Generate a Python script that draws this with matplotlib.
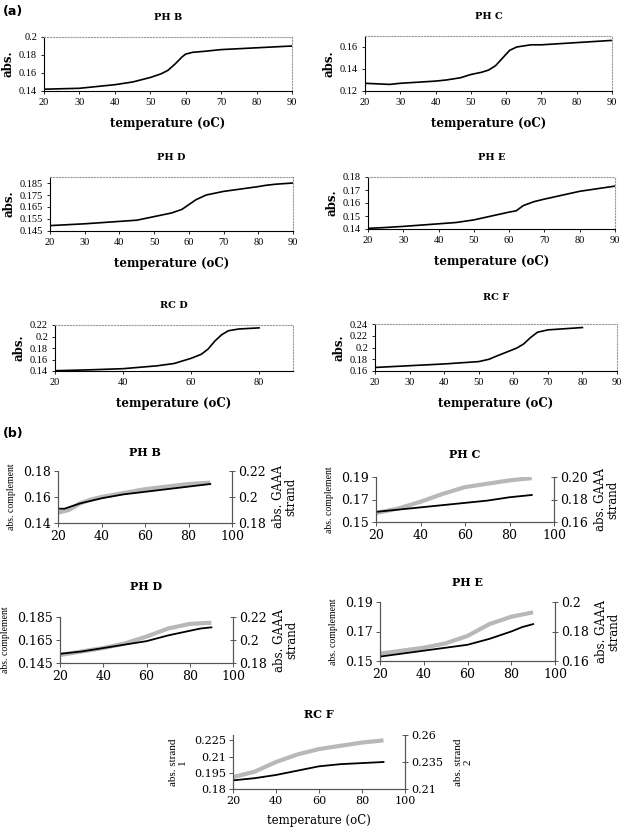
import matplotlib
matplotlib.use("Agg")
import matplotlib.pyplot as plt

W, H = 624, 832
plt.rcParams["font.family"] = ["DejaVu Serif"]

# ---- part (a): single melting curves ----
a_names = ["PH B", "PH C", "PH D", "PH E", "RC D", "RC F"]
a_temp = {
    "PH B": [20, 30, 40, 45, 50, 53, 55, 57, 59, 60, 62, 65, 70, 80, 90],
    "PH C": [20, 27, 30, 40, 43, 47, 50, 53, 55, 57, 59, 61, 63, 67, 70, 80, 90],
    "PH D": [20, 30, 40, 45, 50, 55, 58, 60, 62, 65, 70, 75, 80, 82, 85, 90],
    "PH E": [20, 24, 30, 40, 45, 50, 55, 60, 62, 64, 67, 70, 75, 80, 85, 90],
    "RC D": [20, 30, 40, 50, 55, 60, 63, 65, 67, 69, 71, 74, 80],
    "RC F": [20, 30, 40, 45, 50, 53, 55, 58, 61, 63, 65, 67, 70, 75, 80],
}
a_abs = {
    "PH B": [0.142, 0.143, 0.147, 0.150, 0.155, 0.159, 0.163, 0.170, 0.178, 0.181,
             0.183, 0.184, 0.186, 0.188, 0.190],
    "PH C": [0.127, 0.126, 0.127, 0.129, 0.130, 0.132, 0.135, 0.137, 0.139, 0.143,
             0.150, 0.157, 0.160, 0.162, 0.162, 0.164, 0.166],
    "PH D": [0.1495, 0.151, 0.153, 0.154, 0.157, 0.160, 0.163, 0.167, 0.171, 0.175,
             0.178, 0.180, 0.182, 0.183, 0.184, 0.185],
    "PH E": [0.1405, 0.141, 0.142, 0.144, 0.145, 0.147, 0.150, 0.153, 0.154, 0.158,
             0.161, 0.163, 0.166, 0.169, 0.171, 0.173],
    "RC D": [0.1405, 0.142, 0.144, 0.149, 0.153, 0.162, 0.169, 0.178, 0.192, 0.203,
             0.210, 0.213, 0.215],
    "RC F": [0.166, 0.169, 0.172, 0.174, 0.176, 0.180, 0.185, 0.192, 0.199, 0.206,
             0.217, 0.226, 0.230, 0.232, 0.234],
}
a_ylim = {"PH B": (0.14, 0.2), "PH C": (0.12, 0.17), "PH D": (0.145, 0.19),
          "PH E": (0.14, 0.18), "RC D": (0.14, 0.22), "RC F": (0.16, 0.24)}
a_yticks = {
    "PH B": ([0.14, 0.16, 0.18, 0.2], ["0.14", "0.16", "0.18", "0.2"]),
    "PH C": ([0.12, 0.14, 0.16], ["0.12", "0.14", "0.16"]),
    "PH D": ([0.145, 0.155, 0.165, 0.175, 0.185], ["0.145", "0.155", "0.165", "0.175", "0.185"]),
    "PH E": ([0.14, 0.15, 0.16, 0.17, 0.18], ["0.14", "0.15", "0.16", "0.17", "0.18"]),
    "RC D": ([0.14, 0.16, 0.18, 0.2, 0.22], ["0.14", "0.16", "0.18", "0.2", "0.22"]),
    "RC F": ([0.16, 0.18, 0.2, 0.22, 0.24], ["0.16", "0.18", "0.2", "0.22", "0.24"]),
}
a_xstep = {"PH B": 10, "PH C": 10, "PH D": 10, "PH E": 10, "RC D": 20, "RC F": 10}
# pixel boxes: left, top, right, bottom
a_box = {"PH B": (44, 37, 292, 91), "PH C": (365, 36, 612, 91),
         "PH D": (50, 177, 293, 231), "PH E": (368, 177, 615, 229),
         "RC D": (55, 325, 293, 371), "RC F": (375, 324, 617, 371)}

# ---- part (b): two strands, twin axes ----
b_names = ["PH B", "PH C", "PH D", "PH E", "RC F"]
b_temp_k = {
    "PH B": [20, 23, 30, 40, 50, 60, 70, 80, 90],
    "PH C": [20, 25, 30, 40, 50, 60, 70, 80, 90],
    "PH D": [20, 30, 40, 50, 60, 70, 80, 85, 90],
    "PH E": [20, 30, 40, 50, 60, 70, 80, 85, 90],
    "RC F": [20, 30, 40, 50, 60, 70, 80, 90],
}
b_black = {
    "PH B": [0.151, 0.151, 0.155, 0.159, 0.162, 0.164, 0.166, 0.168, 0.170],
    "PH C": [0.159, 0.160, 0.161, 0.163, 0.165, 0.167, 0.169, 0.172, 0.174],
    "PH D": [0.153, 0.155, 0.158, 0.161, 0.164, 0.169, 0.173, 0.175, 0.176],
    "PH E": [0.153, 0.155, 0.157, 0.159, 0.161, 0.165, 0.170, 0.173, 0.175],
    "RC F": [0.188, 0.190, 0.193, 0.197, 0.201, 0.203, 0.204, 0.205],
}
b_temp_g = {
    "PH B": [20, 25, 30, 35, 40, 50, 60, 70, 80, 90],
    "PH C": [20, 25, 30, 40, 50, 60, 70, 80, 90],
    "PH D": [20, 30, 40, 50, 60, 70, 80, 90],
    "PH E": [20, 30, 40, 50, 60, 70, 80, 90],
    "RC F": [20, 30, 40, 50, 60, 70, 80, 90],
}
b_gray = {
    "PH B": [0.188, 0.190, 0.195, 0.198, 0.200, 0.203, 0.206, 0.208, 0.210, 0.211],
    "PH C": [0.168, 0.170, 0.172, 0.178, 0.185, 0.191, 0.194, 0.197, 0.199],
    "PH D": [0.187, 0.190, 0.193, 0.197, 0.203, 0.210, 0.214, 0.215],
    "PH E": [0.165, 0.167, 0.169, 0.172, 0.177, 0.185, 0.190, 0.193],
    "RC F": [0.221, 0.226, 0.235, 0.242, 0.247, 0.250, 0.253, 0.255],
}
b_left = {
    "PH B": ((0.14, 0.18), [0.14, 0.16, 0.18], ["0.14", "0.16", "0.18"]),
    "PH C": ((0.15, 0.19), [0.15, 0.17, 0.19], ["0.15", "0.17", "0.19"]),
    "PH D": ((0.145, 0.185), [0.145, 0.165, 0.185], ["0.145", "0.165", "0.185"]),
    "PH E": ((0.15, 0.19), [0.15, 0.17, 0.19], ["0.15", "0.17", "0.19"]),
    "RC F": ((0.18, 0.23), [0.18, 0.195, 0.21, 0.225], ["0.18", "0.195", "0.21", "0.225"]),
}
b_right = {
    "PH B": ((0.18, 0.22), [0.18, 0.2, 0.22], ["0.18", "0.2", "0.22"]),
    "PH C": ((0.16, 0.20), [0.16, 0.18, 0.20], ["0.16", "0.18", "0.20"]),
    "PH D": ((0.18, 0.22), [0.18, 0.2, 0.22], ["0.18", "0.2", "0.22"]),
    "PH E": ((0.16, 0.20), [0.16, 0.18, 0.2], ["0.16", "0.18", "0.2"]),
    "RC F": ((0.21, 0.26), [0.21, 0.235, 0.26], ["0.21", "0.235", "0.26"]),
}
b_box = {"PH B": (58, 471, 232, 523), "PH C": (376, 477, 554, 522),
         "PH D": (60, 617, 233, 663), "PH E": (380, 602, 555, 661),
         "RC F": (233, 735, 405, 789)}
b_title_y = {"PH B": 453, "PH C": 455, "PH D": 587, "PH E": 582, "RC F": 715}


def px_axes(fig, box):
    l, t, r, b = box
    return fig.add_axes([l / W, 1 - b / H, (r - l) / W, (b - t) / H])


fig = plt.figure(figsize=(W / 100, H / 100), dpi=100)

fig.text(3 / W, 1 - 12 / H, "(a)", fontsize=9, fontweight="bold", va="center",
         family="DejaVu Sans")
fig.text(3 / W, 1 - 433 / H, "(b)", fontsize=9, fontweight="bold", va="center",
         family="DejaVu Sans")

for name in a_names:
    ax = px_axes(fig, a_box[name])
    ax.plot(a_temp[name], a_abs[name], color="black", lw=1.2)
    ax.set_xlim(20, 90)
    ax.set_xticks(range(20, 91, a_xstep[name]))
    ax.set_ylim(*a_ylim[name])
    ticks, labels = a_yticks[name]
    ax.set_yticks(ticks)
    ax.set_yticklabels(labels)
    ax.tick_params(labelsize=7.5, length=2, width=0.6, pad=3)
    for lab in ax.get_xticklabels() + ax.get_yticklabels():
        lab.set_family("Liberation Serif")
    for s in ("top", "right"):
        ax.spines[s].set_color("#999999")
        ax.spines[s].set_linestyle(":")
        ax.spines[s].set_linewidth(0.8)
    for s in ("left", "bottom"):
        ax.spines[s].set_linewidth(0.8)
    ax.set_ylabel("abs.", fontsize=8.5, fontweight="bold", labelpad=3)
    ax.set_xlabel("temperature (oC)", fontsize=8.5, fontweight="bold", labelpad=7)
    ax.set_title(name, fontsize=7, fontweight="bold", pad=12 if name != "RC F" else 17)

for name in b_names:
    ax = px_axes(fig, b_box[name])
    ax2 = ax.twinx()
    ax2.plot(b_temp_g[name], b_gray[name], color="#b8b8b8", lw=3.0,
             solid_capstyle="butt")
    ax.plot(b_temp_k[name], b_black[name], color="black", lw=1.3)
    ax.set_zorder(ax2.get_zorder() + 1)
    ax.patch.set_visible(False)
    ax.set_xlim(20, 100)
    ax.set_xticks(range(20, 101, 20))
    lim, ticks, labels = b_left[name]
    ax.set_ylim(*lim)
    ax.set_yticks(ticks)
    ax.set_yticklabels(labels)
    lim2, ticks2, labels2 = b_right[name]
    ax2.set_ylim(*lim2)
    ax2.set_yticks(ticks2)
    ax2.set_yticklabels(labels2)
    tick_size = 8 if name == "RC F" else 9
    for a in (ax, ax2):
        a.spines["top"].set_visible(False)
        for s in ("left", "right", "bottom"):
            a.spines[s].set_color("#555555")
            a.spines[s].set_linewidth(0.8)
        a.tick_params(labelsize=tick_size, length=3, width=0.7, color="#555555", pad=2)
    ax2.tick_params(direction="inout", length=5)
    if name == "RC F":
        ax.set_ylabel("abs. strand\n1", fontsize=8, labelpad=5, linespacing=1.0,
                      family="Liberation Serif")
        ax2.set_ylabel("abs. strand\n2", fontsize=8, labelpad=8, linespacing=1.0,
                       rotation=90, family="Liberation Serif")
        ax.set_xlabel("temperature (oC)", fontsize=8.5, labelpad=6)
    else:
        ax.set_ylabel("abs. complement", fontsize=7, labelpad=5,
                      family="Liberation Serif")
        ax2.set_ylabel("abs. GAAA\nstrand", fontsize=8.5, labelpad=4, linespacing=1.0,
                       rotation=90)
    l, t, r, b = b_box[name]
    fig.text((l + r) / 2 / W, 1 - b_title_y[name] / H, name, fontsize=8,
             fontweight="bold", ha="center", va="center")

fig.savefig("out.png", dpi=100)
